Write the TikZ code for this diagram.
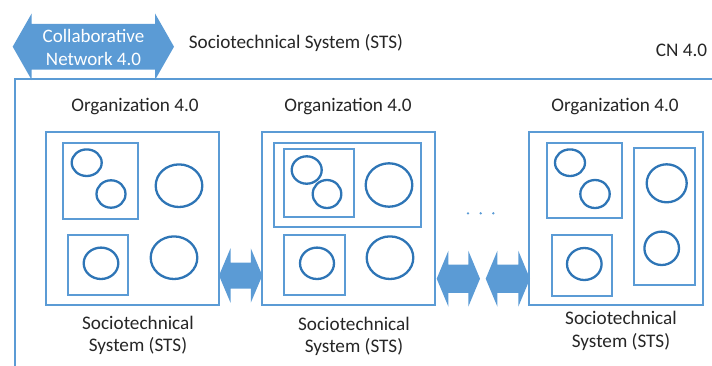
\documentclass[tikz,border=0pt]{standalone}
\usepackage{fontspec}
\setmainfont{Carlito}
\definecolor{boxblue}{HTML}{5B9BD5}
\definecolor{circblue}{HTML}{2E75B6}
\definecolor{txt}{HTML}{262626}
\tikzset{
  boxline/.style={draw=boxblue, line width=2.6pt},
  circline/.style={draw=circblue, line width=2.3pt},
  arrowfill/.style={fill=boxblue},
  lbl/.style={text=txt, font=\fontsize{19.2}{22.7}\selectfont, inner sep=0pt, align=center},
  wlbl/.style={text=white, font=\fontsize{19}{23.3}\selectfont, inner sep=0pt, align=center},
}
\newcommand{\dblarrow}[6]{%
  \fill[arrowfill] (#1,#3) -- ({#1+#4},{#3-#5}) -- ({#1+#4},{#3-#6}) -- ({#2-#4},{#3-#6}) -- ({#2-#4},{#3-#5}) -- (#2,#3)
    -- ({#2-#4},{#3+#5}) -- ({#2-#4},{#3+#6}) -- ({#1+#4},{#3+#6}) -- ({#1+#4},{#3+#5}) -- cycle;}
\begin{document}
\begin{tikzpicture}[x=1pt,y=-1pt]
\useasboundingbox (0,0) rectangle (712,365);
\begin{scope}
\clip (0,0) rectangle (712,365);
% CN 4.0 frame
\draw[boxline] (15,370) -- (15,79) -- (720,79);
\end{scope}
% top double arrow
\dblarrow{12.7}{174}{46.7}{19}{33.3}{22.8}
\node[wlbl] (cn) at (93.5,47.6) {Collaborative\\Network 4.0};
\node[lbl] (sts) at (296,43) {Sociotechnical System (STS)};
\node[lbl] (cnlbl) at (681.5,50) {CN 4.0};
% Organization labels
\node[lbl] (org1) at (135,107) {Organization 4.0};
\node[lbl] (org2) at (348,107) {Organization 4.0};
\node[lbl] (org3) at (615,107) {Organization 4.0};
% ---- Box 1
\draw[boxline] (46,132) rectangle (219,305);
\draw[boxline] (63,143) rectangle (138,219);
\draw[circline] (86.7,162.7) ellipse [x radius=15, y radius=13.3];
\draw[circline] (111,194) ellipse [x radius=14.5, y radius=13.7];
\draw[circline] (179,185.7) ellipse [x radius=23.3, y radius=21.3];
\draw[boxline] (68,235) rectangle (128,295);
\draw[circline] (101,263.3) ellipse [x radius=17.3, y radius=15.7];
\draw[circline] (174,257.7) ellipse [x radius=23.3, y radius=21.3];
% ---- Box 2
\draw[boxline] (262,132) rectangle (435,305);
\draw[boxline] (274,143) rectangle (421,227);
\draw[boxline] (284,149) rectangle (354,217);
\draw[circline] (306.7,170) ellipse [x radius=15, y radius=13.7];
\draw[circline] (327,194) ellipse [x radius=14.3, y radius=14];
\draw[circline] (389,185) ellipse [x radius=23.3, y radius=21.7];
\draw[boxline] (284,235) rectangle (345,295);
\draw[circline] (317,263.3) ellipse [x radius=17, y radius=15.7];
\draw[circline] (390,257.7) ellipse [x radius=23.3, y radius=21.3];
% ---- Box 3
\draw[boxline] (529,132) rectangle (703,305);
\draw[boxline] (547,143) rectangle (622,218);
\draw[circline] (570,162.7) ellipse [x radius=15, y radius=13.3];
\draw[circline] (595,194) ellipse [x radius=14.7, y radius=14];
\draw[boxline] (634,148) rectangle (695,285);
\draw[circline] (666.7,183.3) ellipse [x radius=20, y radius=19];
\draw[circline] (661.7,248.3) ellipse [x radius=17.3, y radius=16.7];
\draw[boxline] (552,235) rectangle (612,296);
\draw[circline] (584.3,264) ellipse [x radius=17.3, y radius=16];
% double arrows between boxes
\dblarrow{219}{262.3}{275.5}{11.5}{27.2}{13}
\dblarrow{436.7}{480}{278.7}{11.7}{28}{14.2}
\dblarrow{485.7}{530}{278.7}{11.7}{28}{14.2}
% dots
\fill[boxblue] (468,213.3) circle (1.3) (480.7,213.3) circle (1.3) (493.3,213.3) circle (1.3);
% STS labels
\node[lbl] (sts1) at (138,335.5) {Sociotechnical\\System (STS)};
\node[lbl] (sts2) at (354,336.5) {Sociotechnical\\System (STS)};
\node[lbl] (sts3) at (621,331) {Sociotechnical\\System (STS)};
\end{tikzpicture}
\end{document}
